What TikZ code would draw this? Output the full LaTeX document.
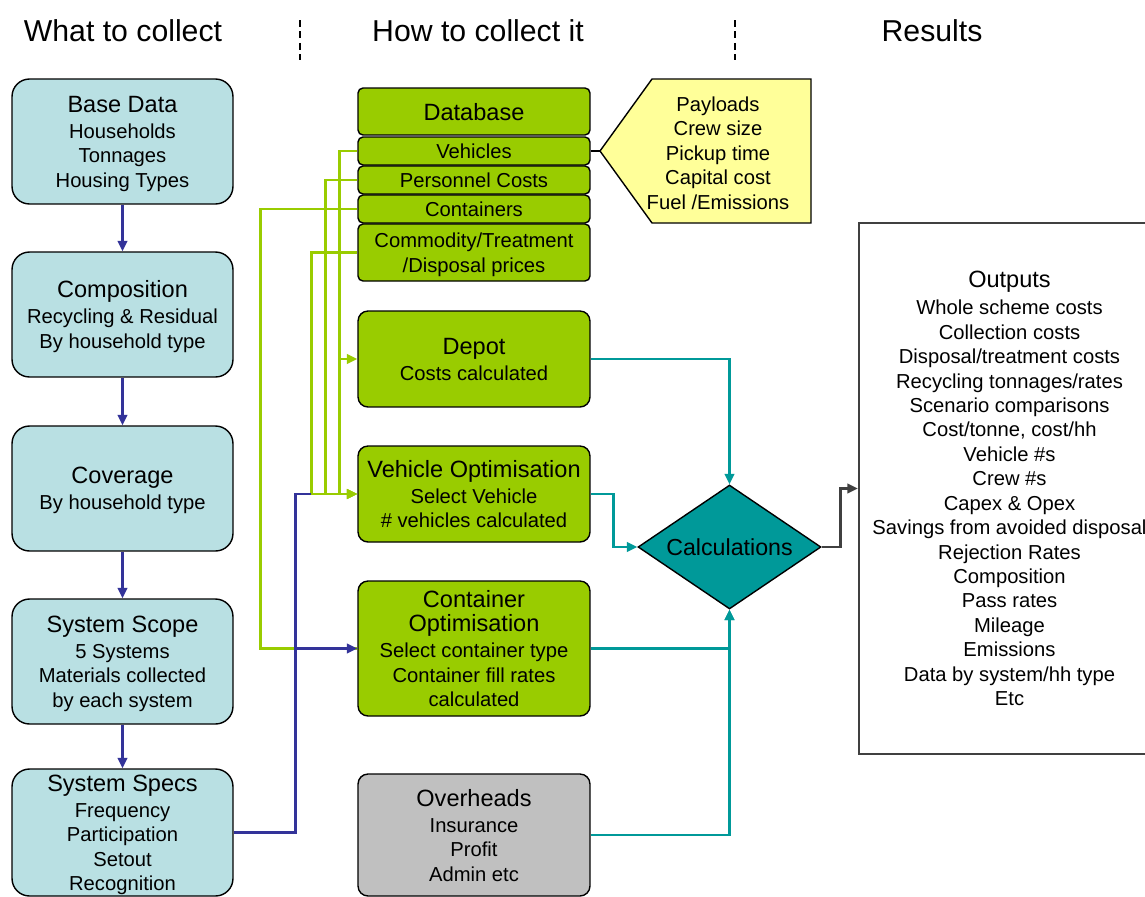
\documentclass[tikz,border=0pt]{standalone}
\usepackage{fontspec}
\setmainfont{Liberation Sans}
\usepackage{xcolor}
\usetikzlibrary{arrows.meta, positioning, calc, shapes.geometric}

\definecolor{collectblue}{HTML}{B9E0E3}
\definecolor{dbgreen}{HTML}{99CC00}
\definecolor{calcteal}{HTML}{009999}
\definecolor{noteyellow}{HTML}{FFFF99}
\definecolor{overgrey}{HTML}{C0C0C0}
\definecolor{specblue}{HTML}{333399}
\definecolor{outdark}{HTML}{404040}

\newcommand{\boxtitle}[1]{{\fontsize{13.4}{16}\selectfont #1}}

\begin{document}
\begin{tikzpicture}[x=0.02cm, y=-0.02cm, >={Triangle[length=6pt,width=5.5pt]},
    font=\fontsize{11.5}{13.9}\selectfont,
    colhead/.style={font=\fontsize{17.2}{20}\selectfont},
    collectbox/.style={draw=black, line width=0.8pt, fill=collectblue, rounded corners=0.35cm,
      minimum width=4.42cm, minimum height=2.5cm, align=center, inner sep=1pt, text depth=0pt},
    howbox/.style={draw=black, line width=0.8pt, fill=dbgreen, rounded corners=0.2cm,
      minimum width=4.64cm, minimum height=1.92cm, align=center, inner sep=1pt, text depth=0pt},
    dbitem/.style={howbox, rounded corners=0.1cm, minimum height=0.56cm},
    specline/.style={draw=specblue, line width=1.4pt},
    dbline/.style={draw=dbgreen, line width=1.4pt},
    calcline/.style={draw=calcteal, line width=1.4pt},
  ]
  \useasboundingbox (0,0) rectangle (1145,896);
  \clip (0,0) rectangle (1145,896);

  % column headings
  \node[colhead] (hwhat) at (123,31) {What to collect};
  \node[colhead] (hhow) at (478,31) {How to collect it};
  \node[colhead] (hres) at (932,31) {Results};
  \draw[dash pattern=on 4pt off 2.5pt, line width=0.6pt] (300,20) -- (300,60);
  \draw[dash pattern=on 4pt off 2.5pt, line width=0.6pt] (735,20) -- (735,60);

  % what to collect
  \node[collectbox] (base) at (122.5,141.5)
    {\boxtitle{Base Data}\\[1pt] Households\\ Tonnages\\ Housing Types};
  \node[collectbox] (comp) at (122.5,314.5)
    {\boxtitle{Composition}\\[1pt] Recycling \& Residual\\ By household type};
  \node[collectbox] (cover) at (122.5,488.5)
    {\boxtitle{Coverage}\\[1pt] By household type};
  \node[collectbox] (scope) at (122.5,661.5)
    {\boxtitle{System Scope}\\[1pt] 5 Systems\\ Materials collected\\ by each system};
  \node[collectbox, minimum height=2.54cm] (specs) at (122.5,832.5)
    {\boxtitle{System Specs}\\[1pt] Frequency\\ Participation\\ Setout\\ Recognition};

  \draw[specline, ->] (base) -- (comp);
  \draw[specline, ->] (comp) -- (cover);
  \draw[specline, ->] (cover) -- (scope);
  \draw[specline, ->] (scope) -- (specs);

  % how to collect it
  \node[dbitem, minimum height=0.94cm] (db) at (474,111.5) {\boxtitle{Database}};
  \node[dbitem] (vehicles) at (474,151) {Vehicles};
  \node[dbitem] (personnel) at (474,180) {Personnel Costs};
  \node[dbitem] (containers) at (474,209) {Containers};
  \node[dbitem, minimum height=1.14cm] (commodity) at (474,252.5)
    {Commodity/Treatment\\ /Disposal prices};

  \node[howbox] (depot) at (474,359) {\boxtitle{Depot}\\[1pt] Costs calculated};
  \node[howbox] (vehopt) at (474,494)
    {\boxtitle{Vehicle Optimisation}\\[1pt] Select Vehicle\\ \# vehicles calculated};
  \node[howbox, minimum height=2.7cm] (contopt) at (474,648.5)
    {\boxtitle{Container}\\ \boxtitle{Optimisation}\\[1pt] Select container type\\
     Container fill rates\\ calculated};
  \node[howbox, fill=overgrey, minimum height=2.44cm] (overheads) at (474,835)
    {\boxtitle{Overheads}\\[1pt] Insurance\\ Profit\\ Admin etc};

  % vehicle details
  \draw[line width=0.8pt, fill=noteyellow] (600,151) -- (652,79) -- (811,79)
    -- (811,223) -- (652,223) -- cycle;
  \coordinate (notetip) at (600,151);
  \node[align=center, text depth=0pt] (vehnote) at (718,153)
    {Payloads\\ Crew size\\ Pickup time\\ Capital cost\\ Fuel /Emissions};
  \draw[line width=0.8pt] (vehicles.east) -- (notetip);

  % database feeds
  \draw[dbline] (containers.west) -- ++(-97,0) |- (contopt.west);
  \draw[dbline, ->] (vehicles.west) -- ++(-18,0) coordinate (vfeed) |- (vehopt.west);
  \draw[dbline, ->] (vfeed |- depot.west) -- (depot.west);
  \draw[dbline, ->] (personnel.west) -- ++(-32,0) |- (vehopt.west);
  \draw[dbline, ->] (commodity.west) -- ++(-46,0) coordinate (cfeed) |- (vehopt.west);

  % system specs feed
  \draw[specline, ->] (specs.east) -- ++(62,0) coordinate (sfeed) |- (contopt.west);
  \draw[specline] (sfeed) |- (cfeed |- vehopt.west);

  % calculations
  \node[diamond, draw=black, line width=0.8pt, fill=calcteal, inner sep=0pt,
    minimum width=3.66cm, minimum height=2.48cm, aspect=1.47,
    font=\fontsize{13.2}{16}\selectfont] (calc) at (729.5,547) {Calculations};
  \draw[calcline, ->] (depot.east) -| (calc.north);
  \draw[calcline, ->] (vehopt.east) -- ++(23,0) |- (calc.west);
  \draw[calcline, ->] (contopt.east) -| (calc.south);
  \draw[calcline, ->] (overheads.east) -| (calc.south);

  % results
  \node[draw=outdark, line width=1.4pt, fill=white, minimum width=6.02cm,
    minimum height=10.62cm, align=center, text depth=0pt] (outputs) at (1009.5,488.5)
    {\boxtitle{Outputs}\\[1.5pt] Whole scheme costs\\ Collection costs\\
     Disposal/treatment costs\\ Recycling tonnages/rates\\ Scenario comparisons\\
     Cost/tonne, cost/hh\\ Vehicle \#s\\ Crew \#s\\ Capex \& Opex\\
     Savings from avoided disposal\\ Rejection Rates\\ Composition\\ Pass rates\\
     Mileage\\ Emissions\\ Data by system/hh type\\ Etc};
  \draw[draw=outdark, line width=1.4pt, ->] (calc.east) -- ++(19,0) |- (outputs.west);
\end{tikzpicture}
\end{document}
